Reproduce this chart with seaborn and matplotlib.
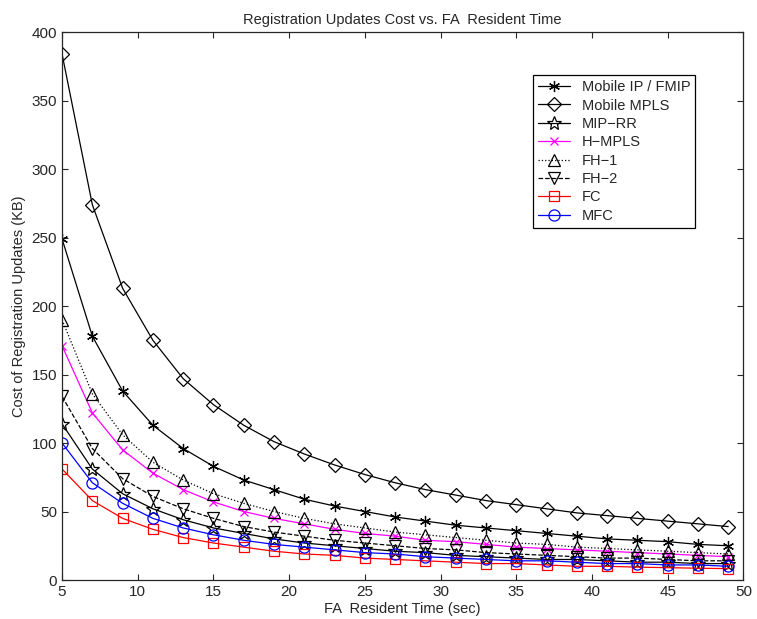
import numpy as np
import pandas as pd
import seaborn as sns
import matplotlib
matplotlib.use("Agg")
import matplotlib.pyplot as plt

# waktu tinggal di FA (detik)
resident_time = [5, 7, 9, 11, 13, 15, 17, 19, 21, 23, 25, 27, 29, 31, 33, 35, 37, 39, 41, 43, 45, 47, 49]

mobile_ip = [249, 178, 138, 113, 96, 83, 73, 66, 59, 54, 50, 46, 43, 40, 38, 36, 34, 32, 30, 29, 28, 26, 25]
mobile_mpls = [384, 274, 213, 175, 147, 128, 113, 101, 92, 84, 77, 71, 66, 62, 58, 55, 52, 49, 47, 45, 43, 41, 39]
mip_rr = [114, 81, 63, 52, 44, 38, 34, 30, 27, 25, 23, 21, 20, 18, 17, 16, 15, 15, 14, 13, 13, 12, 12]
h_mpls = [171, 122, 95, 78, 66, 57, 50, 45, 41, 37, 34, 32, 29, 28, 26, 24, 23, 22, 21, 20, 19, 18, 17]
fh_1 = [190, 136, 106, 86, 73, 63, 56, 50, 45, 41, 38, 35, 33, 31, 29, 27, 26, 24, 23, 22, 21, 20, 19]
fh_2 = [134, 96, 74, 61, 52, 45, 39, 35, 32, 29, 27, 25, 23, 22, 20, 19, 18, 17, 16, 16, 15, 14, 14]
fc = [81, 58, 45, 37, 31, 27, 24, 21, 19, 18, 16, 15, 14, 13, 12, 12, 11, 10, 10, 9.4, 9, 8.6, 8.3]
mfc = [100, 71, 56, 45, 38, 33, 29, 26, 24, 22, 20, 19, 17, 16, 15, 14, 14, 13, 12, 12, 11, 11, 10]

labels = ["Mobile IP / FMIP", "Mobile MPLS", "MIP\u2212RR", "H\u2212MPLS", "FH\u22121", "FH\u22122", "FC", "MFC"]

sns.set_style("ticks")
plt.rcParams["font.family"] = ["Liberation Sans", "DejaVu Sans"]
plt.rcParams["xtick.direction"] = "in"
plt.rcParams["ytick.direction"] = "in"

fig = plt.figure(figsize=(7.57, 6.19), dpi=100)
ax = fig.add_axes([0.082, 0.063, 0.900, 0.885])

# (data, warna, marker, gaya garis, ukuran marker)
series = [
    (mobile_ip, "black", (6, 2, 0), "-", 8),
    (mobile_mpls, "black", "D", "-", 7.5),
    (mip_rr, "black", "*", "-", 10),
    (h_mpls, "magenta", "x", "-", 6),
    (fh_1, "black", "^", ":", 9),
    (fh_2, "black", "v", "--", 9),
    (fc, "red", "s", "-", 7),
    (mfc, "blue", "o", "-", 8),
]

for (vals, col, mk, ls, ms), lab in zip(series, labels):
    sns.lineplot(x=resident_time, y=vals, ax=ax, color=col, marker=mk, linestyle=ls,
                 markersize=ms, markerfacecolor="none", markeredgecolor=col,
                 markeredgewidth=0.9, linewidth=0.9, label=lab)

ax.set_xlim(5, 50)
ax.set_ylim(0, 400)
ax.set_xticks(range(5, 51, 5))
ax.set_yticks(range(0, 401, 50))
ax.tick_params(labelsize=11, top=True, right=True, length=4)
for s in ax.spines.values():
    s.set_linewidth(0.9)

ax.set_title("Registration Updates Cost vs. FA  Resident Time", fontsize=10.5)
ax.set_xlabel("FA  Resident Time (sec)", fontsize=10.5, labelpad=2)
ax.set_ylabel("Cost of Registration Updates (KB)", fontsize=10.5)

leg = ax.legend(loc="upper left", bbox_to_anchor=(0.68, 0.935), fontsize=10.5,
                frameon=True, fancybox=False, edgecolor="black", framealpha=1,
                borderpad=0.35, labelspacing=0.3, handlelength=2.2)
leg.get_frame().set_linewidth(0.9)

plt.savefig("out.png", dpi=100)
